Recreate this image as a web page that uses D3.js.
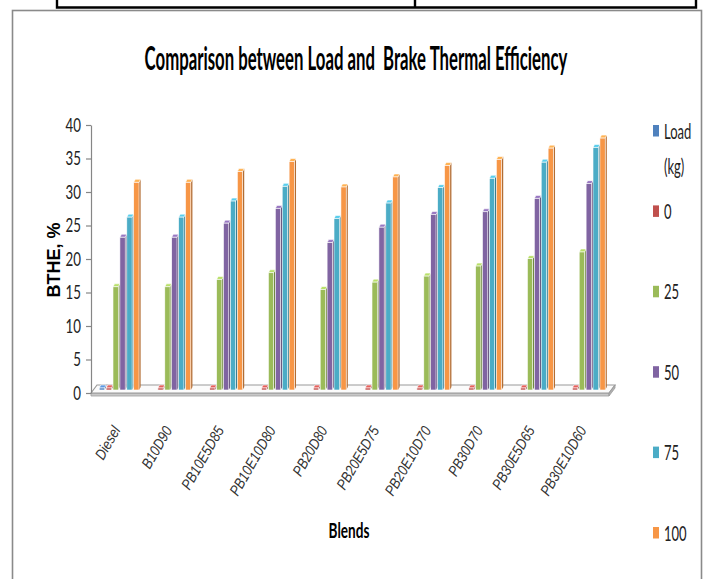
<!DOCTYPE html>
<html>
<head>
<meta charset="utf-8">
<script src="https://cdn.jsdelivr.net/npm/d3@7"></script>
<style>
  body { margin: 0; background: #fff; }
  svg { display: block; }
</style>
</head>
<body>
<svg id="chart" width="707" height="579"></svg>
<script>
// Blends on the category axis
const blends = ["Diesel", "B10D90", "PB10E5D85", "PB10E10D80", "PB20D80",
                "PB20E5D75", "PB20E10D70", "PB30D70", "PB30E5D65", "PB30E10D60"];

// Legend / series names (load in kg)
const seriesNames = ["Load (kg)", "0", "25", "50", "75", "100"];
const seriesColors = ["#4f81bd", "#c0504d", "#9bbb59", "#8064a2", "#4bacc6", "#f79646"];

// Brake thermal efficiency (%) per blend, one array per load
const loadKg  = [0, null, null, null, null, null, null, null, null, null];
const load0   = [0, 0, 0, 0, 0, 0, 0, 0, 0, 0];
const load25  = [15.4, 15.4, 16.5, 17.5, 15.0, 16.1, 17.0, 18.5, 19.6, 20.6];
const load50  = [22.8, 22.8, 24.9, 27.1, 22.0, 24.3, 26.2, 26.6, 28.6, 30.8];
const load75  = [25.8, 25.8, 28.2, 30.4, 25.6, 27.9, 30.2, 31.6, 34.0, 36.2];
const load100 = [31.0, 31.0, 32.6, 34.1, 30.3, 31.8, 33.5, 34.4, 36.1, 37.6];

const yTicks = [0, 5, 10, 15, 20, 25, 30, 35, 40];

const seriesValues = [loadKg, load0, load25, load50, load75, load100];

const svg = d3.select("#chart");
const narrowFont = "Lato, 'Open Sans', sans-serif";

// Text squeezed horizontally around its anchor point (x, y)
function narrowText(parent, x, y, str, k, opts) {
  const t = parent.append("text")
    .attr("transform", `translate(${x},${y}) scale(${k},1)`)
    .attr("text-anchor", opts.anchor || "start")
    .attr("font-family", opts.family || narrowFont)
    .attr("font-size", opts.size)
    .attr("font-weight", opts.weight || "normal")
    .attr("fill", opts.fill || "#222")
    .style("white-space", "pre")
    .text(str);
  if (opts.dy) t.attr("dy", opts.dy);
  return t;
}

// Table rule fragment above the chart
svg.append("path")
  .attr("d", "M57,0V7.5H696V0M415,0V7.5")
  .attr("stroke", "#000").attr("stroke-width", 2.4).attr("fill", "none");

// Chart frame
svg.append("rect")
  .attr("x", 12.5).attr("y", 10.5).attr("width", 689).attr("height", 600)
  .attr("fill", "none").attr("stroke", "#8a8a8a").attr("stroke-width", 1.6);

// Title, fitted to its width
const titleText = "Comparison between Load and  Brake Thermal Efficiency";
const title = narrowText(svg, 356, 70, titleText, 1,
  { anchor: "middle", size: 32, weight: "bold", fill: "#000" });
const tw = title.node().getComputedTextLength();
title.attr("transform", `translate(356,70) scale(${423 / tw},1)`);

// Scales
const x0 = d3.scaleBand().domain(blends).range([91, 609]).paddingInner(0.2).paddingOuter(0.1);
const x1 = d3.scaleBand().domain(seriesNames).range([0, x0.bandwidth()]);
const y = d3.scaleLinear().domain([0, 40]).range([393, 125]);

// 3-D projection offsets
const floorDepth = { dx: 6, dy: -8 };
const barShift = { dx: 3, dy: -3 };
const barSide = { dx: 1.6, dy: -3 };

// Floor slab
const fl = x0.range()[0], fr = x0.range()[1], fy = y(0);
svg.append("path")
  .attr("d", `M${fl},${fy}L${fr},${fy}L${fr},${fy + 3}L${fl},${fy + 3}Z`)
  .attr("fill", "#c8c8c8").attr("stroke", "#a0a0a0").attr("stroke-width", 0.8);
svg.append("path")
  .attr("d", `M${fl},${fy}L${fl + floorDepth.dx},${fy + floorDepth.dy}L${fr + floorDepth.dx},${fy + floorDepth.dy}L${fr},${fy}Z`)
  .attr("fill", "#fbfbfb").attr("stroke", "#9a9a9a").attr("stroke-width", 1.2);
svg.append("path")
  .attr("d", `M${fr},${fy}L${fr + floorDepth.dx},${fy + floorDepth.dy}L${fr + floorDepth.dx},${fy + floorDepth.dy + 3}L${fr},${fy + 3}Z`)
  .attr("fill", "#b0b0b0").attr("stroke", "#9a9a9a").attr("stroke-width", 0.8);

// Y axis (labels drawn separately in the narrow face)
const yAxis = svg.append("g")
  .attr("transform", `translate(${fl},0)`)
  .call(d3.axisLeft(y).tickValues(yTicks).tickSize(5).tickSizeOuter(0).tickFormat(""));
yAxis.select(".domain").attr("stroke", "#868686").attr("stroke-width", 1.2);
yAxis.selectAll(".tick line").attr("stroke", "#868686").attr("stroke-width", 1.2);
yTicks.forEach(t => {
  narrowText(svg, fl - 10, y(t), String(t), 0.7, { anchor: "end", size: 19, dy: "0.35em" });
});

// Bars (front face, right side, top cap)
const bars = svg.append("g");
blends.forEach((b, i) => {
  seriesNames.forEach((s, j) => {
    const v = seriesValues[j][i];
    if (v === null) return;
    const col = d3.color(seriesColors[j]);
    const bx = x0(b) + x1(s) + barShift.dx;
    const bw = x1.bandwidth() - barSide.dx;
    const top = Math.min(y(v) + barShift.dy, y(0) + barShift.dy - 2);
    const base = y(0) + barShift.dy;
    const g = bars.append("g");
    g.append("path")
      .attr("d", `M${bx + bw},${top}L${bx + bw + barSide.dx},${top + barSide.dy}L${bx + bw + barSide.dx},${base + barSide.dy}L${bx + bw},${base}Z`)
      .attr("fill", col.darker(0.9));
    g.append("path")
      .attr("d", `M${bx},${top}L${bx + barSide.dx},${top + barSide.dy}L${bx + bw + barSide.dx},${top + barSide.dy}L${bx + bw},${top}Z`)
      .attr("fill", col.brighter(0.5)).attr("stroke", "#fff").attr("stroke-width", 0.6);
    g.append("rect")
      .attr("x", bx).attr("y", top).attr("width", bw).attr("height", base - top)
      .attr("fill", col).attr("stroke", "#fff").attr("stroke-width", 0.6);
  });
});

// Category labels
const catLabels = svg.append("g");
blends.forEach(b => {
  catLabels.append("text")
    .attr("transform", `translate(${x0(b) + x0.bandwidth() / 2 + 4},430) rotate(-60) scale(0.85,1)`)
    .attr("text-anchor", "end")
    .attr("font-family", "'Liberation Sans', Arial, sans-serif")
    .attr("font-style", "italic").attr("font-size", 15).attr("fill", "#333")
    .text(b);
});

// Axis titles
const yTitle = svg.append("text")
  .attr("transform", "translate(60,260) rotate(-90)")
  .attr("text-anchor", "middle")
  .attr("font-family", "'Liberation Sans', Arial, sans-serif")
  .attr("font-weight", "bold").attr("font-size", 18).attr("fill", "#000")
  .text("BTHE, %");

narrowText(svg, 349, 538, "Blends", 0.68, { anchor: "middle", size: 20, weight: "bold", fill: "#000" });

// Legend
const ly = d3.scalePoint().domain(seriesNames).range([131, 533]);
const legend = svg.append("g");
seriesNames.forEach((s, j) => {
  const cy = ly(s);
  legend.append("rect")
    .attr("x", 653).attr("y", cy - 6).attr("width", 6).attr("height", 11.5)
    .attr("fill", seriesColors[j]);
  s.split(" ").forEach((t, k) => {
    narrowText(legend, 664, cy + k * 35, t, 0.62, { size: 21, dy: "0.36em" });
  });
});
</script>
</body>
</html>
